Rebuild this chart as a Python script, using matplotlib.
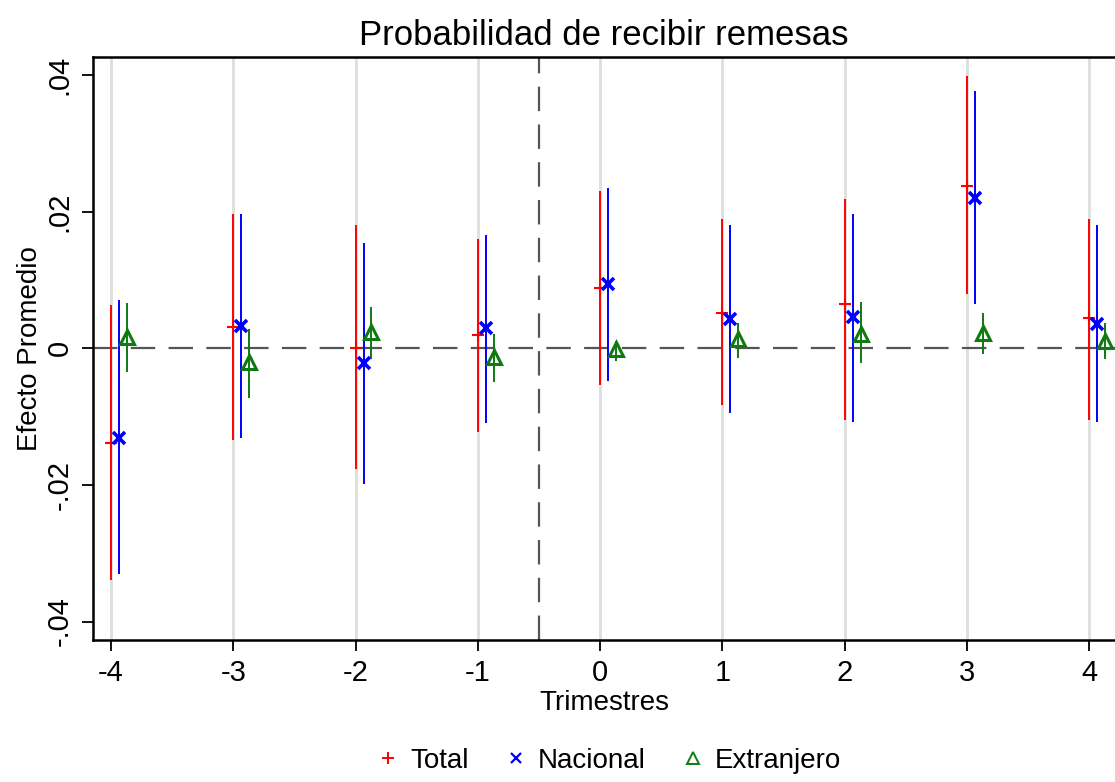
import matplotlib
matplotlib.use("Agg")
import matplotlib.pyplot as plt
import numpy as np

plt.rcParams['font.family'] = ['Liberation Sans Narrow', 'Liberation Sans', 'DejaVu Sans']

# datos
trimestres = np.array([-4, -3, -2, -1, 0, 1, 2, 3, 4])

total = [-0.0138, 0.0031, 0.0001, 0.0019, 0.0089, 0.0052, 0.0065, 0.0237, 0.0044]
total_lo = [-0.0339, -0.0134, -0.0177, -0.0122, -0.0054, -0.0083, -0.0105, 0.0079, -0.0105]
total_hi = [0.0063, 0.0196, 0.0181, 0.0160, 0.0230, 0.0189, 0.0218, 0.0398, 0.0189]

nacional = [-0.0131, 0.0032, -0.0022, 0.0030, 0.0094, 0.0043, 0.0046, 0.0220, 0.0035]
nacional_lo = [-0.0330, -0.0131, -0.0198, -0.0110, -0.0048, -0.0094, -0.0108, 0.0065, -0.0108]
nacional_hi = [0.0071, 0.0196, 0.0154, 0.0166, 0.0234, 0.0181, 0.0196, 0.0376, 0.0181]

extranjero = [0.0017, -0.0020, 0.0024, -0.0012, -0.0001, 0.0013, 0.0021, 0.0023, 0.0010]
extranjero_lo = [-0.0035, -0.0073, -0.0015, -0.0050, -0.0018, -0.0014, -0.0021, -0.0008, -0.0015]
extranjero_hi = [0.0066, 0.0028, 0.0060, 0.0021, 0.0010, 0.0037, 0.0068, 0.0052, 0.0037]

yticks = [-0.04, -0.02, 0, 0.02, 0.04]
yticklabels = ['-.04', '-.02', '0', '.02', '.04']

fig = plt.figure(figsize=(11.15, 7.82), dpi=100)
ax = fig.add_axes([0.0834, 0.1816, 1 - 0.0834, 0.9267 - 0.1816])

# lineas verticales grises en cada trimestre
for t in trimestres:
    ax.axvline(t, color='#dedede', lw=2, zorder=0)

ax.axhline(0, color='#555555', lw=1.6, ls=(0, (11, 6)), zorder=1)
ax.axvline(-0.5, color='#555555', lw=1.6, ls=(0, (11, 6)), zorder=1)

series = [
    (0.0, total, total_lo, total_hi, 'red', '+', 'Total'),
    (0.065, nacional, nacional_lo, nacional_hi, 'blue', 'x', 'Nacional'),
    (0.13, extranjero, extranjero_lo, extranjero_hi, '#0f7a0f', '^', 'Extranjero'),
]
for off, y, lo, hi, col, mk, lab in series:
    x = trimestres + off
    ax.vlines(x, lo, hi, color=col, lw=1.4, zorder=2)
    if mk == '^':
        ax.plot(x, y, ls='none', marker=mk, ms=10, mfc='none', mec=col, mew=2.2, zorder=3)
        ax.plot([], [], ls='none', marker=mk, ms=8, mfc='none', mec=col, mew=1.4, label=lab)
    elif mk == 'x':
        ax.plot(x, y, ls='none', marker=mk, ms=8.5, color=col, mew=2.6, zorder=3)
        ax.plot([], [], ls='none', marker=mk, ms=7, color=col, mew=1.6, label=lab)
    else:
        ax.plot(x, y, ls='none', marker=mk, ms=8.5, color=col, mew=1.5, zorder=3)
        ax.plot([], [], ls='none', marker=mk, ms=8, color=col, mew=1.4, label=lab)

ax.set_xlim(-4.147, 4.21)
ax.set_ylim(-0.0427, 0.0426)
ax.set_xticks(trimestres)
ax.set_xticklabels([str(t) for t in trimestres], fontsize=21)
ax.set_yticks(yticks)
ax.set_yticklabels(yticklabels, fontsize=21, rotation=90, va='center')
ax.tick_params(axis='both', length=8, width=1.3, direction='out', pad=6)

for s in ['left', 'bottom', 'top']:
    ax.spines[s].set_linewidth(1.8)
ax.spines['right'].set_visible(False)

ax.set_title('Probabilidad de recibir remesas', fontsize=25, pad=9)
ax.set_xlabel('Trimestres', fontsize=20, labelpad=2)
ax.set_ylabel('Efecto Promedio', fontsize=20, labelpad=2)

fig.legend(loc='lower center', bbox_to_anchor=(0.545, -0.022), ncol=3, frameon=False,
           fontsize=20, handletextpad=0.3, columnspacing=1.2, handlelength=1.0)

fig.savefig('out.png', dpi=100)
